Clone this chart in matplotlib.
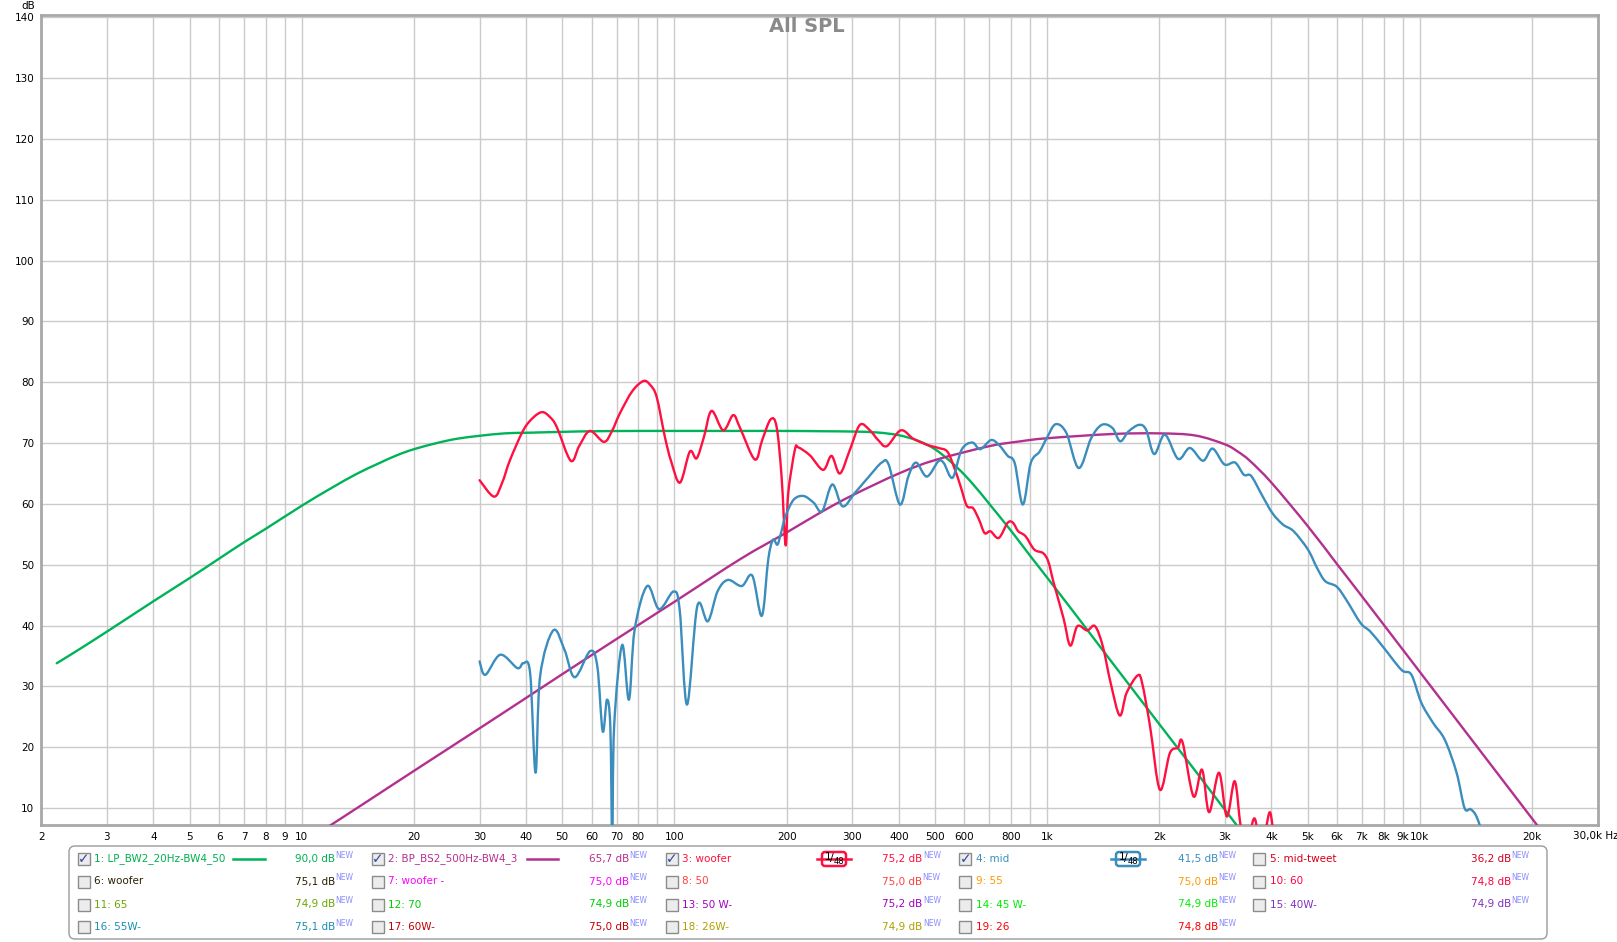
import numpy as np
import matplotlib.pyplot as plt
from matplotlib.patches import Rectangle, FancyBboxPatch, PathPatch
from matplotlib.path import Path
from matplotlib.transforms import IdentityTransform

W, H = 1617, 942

# --- curve data (Hz, dB) ---
lp_freq = [2.2, 2.5, 3, 4, 5, 6, 7, 8, 10, 12, 14, 16, 18, 20, 23, 26, 30, 35, 40, 50, 60, 80,
           100, 150, 200, 250, 300, 350, 400, 450, 500, 550, 600, 650, 700, 800, 900, 1000,
           1200, 1500, 2000, 2500, 3000, 3500]
lp_db = [33.8, 35.9, 39.0, 44.0, 47.8, 51.0, 53.7, 55.9, 59.7, 62.6, 64.9, 66.6, 68.0, 69.0,
         70.0, 70.7, 71.2, 71.6, 71.7, 71.85, 71.95, 72.0, 72.0, 72.0, 72.0, 71.95, 71.9,
         71.75, 71.3, 70.4, 69.0, 67.0, 64.8, 62.4, 60.0, 55.6, 51.5, 47.9, 41.6, 33.8, 23.8,
         16.1, 9.7, 4.4]

bp_freq = [11.5, 15, 20, 30, 40, 50, 70, 100, 150, 200, 250, 300, 400, 500, 700, 850, 1000,
           1500, 2000, 2500, 3000, 3250, 3500, 4000, 5000, 6000, 7000, 10000, 14000, 21000]
bp_db = [6.5, 11.1, 16.1, 23.1, 28.1, 32.0, 37.8, 43.9, 50.9, 55.3, 58.8, 61.4, 65.0, 67.2,
         69.5, 70.3, 70.8, 71.5, 71.6, 71.25, 69.8, 68.6, 67.1, 63.5, 56.4, 50.1, 44.8, 32.4,
         20.7, 6.6]

woofer_freq = [30, 32.8, 34.5, 36.2, 39.3, 41.8, 44.2, 46.3, 48.3, 52.7, 55.5, 59.3, 64.7,
               68.0, 71.4, 77.0, 82.5, 86.0, 89.6, 94.3, 98.0, 103.5, 110, 114.7, 120, 125.8,
               135.2, 143.8, 150, 164.4, 172, 181.2, 188, 193.9, 198.8, 202, 210.5, 215,
               230.9, 250.7, 264, 278, 295.7, 314.6, 334.6, 352.2, 371.5, 405, 438, 478, 511,
               540, 564, 586, 609, 633, 657, 680, 705, 742, 784, 810, 837, 875, 924, 976,
               1008, 1042, 1107, 1154, 1206, 1281, 1345, 1411, 1482, 1567, 1634, 1750, 1800,
               1890, 2008, 2135, 2243, 2310, 2472, 2605, 2722, 2893, 3037, 3188, 3307, 3420,
               3600, 3760, 3960, 4080]
woofer_db = [63.9, 61.2, 63.5, 67.2, 72.1, 74.2, 75.1, 74.3, 72.7, 67.1, 69.5, 72.0, 70.2,
             72.0, 74.9, 78.5, 80.2, 79.6, 77.6, 71.0, 67.0, 63.5, 68.6, 67.5, 71.0, 75.3,
             72.1, 74.6, 72.5, 67.3, 70.5, 73.9, 72.7, 64.5, 53.2, 61.7, 68.9, 69.3, 68.0,
             65.6, 67.9, 65.0, 68.9, 73.0, 72.1, 70.5, 69.5, 72.1, 70.7, 69.7, 69.2, 68.6,
             65.9, 62.9, 59.7, 59.3, 57.4, 55.2, 55.5, 54.4, 56.9, 56.9, 55.5, 54.7, 52.5,
             51.9, 50.5, 47.0, 41.2, 36.7, 39.9, 39.2, 39.9, 36.6, 30.5, 25.2, 28.9, 31.8,
             30.5, 23.4, 13.0, 19.0, 19.9, 20.8, 11.9, 16.3, 9.3, 15.8, 8.6, 14.4, 7.0, 3.0,
             8.3, 3.0, 9.3, 3.0]

mid_freq = [30, 31.1, 34.1, 37.9, 39.3, 41.0, 42.4, 43.6, 47.3, 50.7, 54.0, 59.4, 62.1, 64.2,
            65.9, 67.3, 68.1, 68.9, 72.4, 75.5, 78.2, 84.5, 91.0, 99.5, 103.3, 108.1, 115.2,
            122.9, 130.5, 139.1, 151.6, 161.8, 171.6, 178.5, 183.8, 188.9, 192.8, 198.7,
            209.0, 222.2, 236.4, 249.1, 265.3, 282.7, 304.9, 332.7, 360, 375.6, 403, 424.3,
            445, 475.6, 510.8, 528.5, 557.7, 589.6, 629.6, 661.6, 707.1, 742.9, 784.1, 818.9,
            861.0, 903.9, 955.0, 997.8, 1054, 1126, 1216, 1313, 1402, 1497, 1571, 1653, 1764,
            1844, 1939, 2071, 2248, 2417, 2620, 2781, 2991, 3196, 3374, 3530, 3769, 4023,
            4297, 4590, 5012, 5300, 5578, 5986, 6356, 6943, 7373, 8020, 8937, 9502, 10101,
            10860, 11680, 12560, 13190, 13690, 14200, 14900]
mid_db = [34.1, 31.9, 35.2, 33.0, 33.8, 32.2, 15.8, 31.6, 39.2, 36.0, 31.5, 35.8, 33.3, 22.6,
          27.8, 23.4, 5.0, 23.4, 36.8, 27.8, 39.3, 46.5, 42.7, 45.6, 42.6, 27.0, 43.2, 40.7,
          45.6, 47.5, 46.5, 48.2, 41.6, 50.8, 54.1, 53.3, 55.0, 58.0, 60.7, 61.3, 60.2, 58.8,
          63.2, 59.6, 61.8, 64.5, 66.8, 66.5, 59.9, 64.5, 66.8, 64.5, 67.0, 66.7, 64.3, 68.9,
          70.1, 69.0, 70.5, 69.7, 67.9, 66.7, 59.9, 66.7, 68.6, 70.8, 73.1, 71.7, 65.9, 70.8,
          73.0, 72.5, 70.3, 71.9, 73.0, 72.2, 68.2, 71.4, 67.4, 69.2, 67.1, 69.1, 66.5, 66.8,
          64.8, 64.6, 61.5, 58.5, 56.6, 55.5, 52.5, 49.5, 47.3, 46.4, 44.2, 40.4, 39.0, 36.3,
          32.7, 31.9, 27.3, 24.0, 21.2, 15.8, 10.0, 9.8, 8.6, 5.0]

# --- axis ticks ---
x_grid = [2, 3, 4, 5, 6, 7, 8, 9, 10, 20, 30, 40, 50, 60, 70, 80, 90, 100, 200, 300, 400,
          500, 600, 700, 800, 900, 1000, 2000, 3000, 4000, 5000, 6000, 7000, 8000, 9000,
          10000, 20000]
x_labels = ['2', '3', '4', '5', '6', '7', '8', '9', '10', '20', '30', '40', '50', '60', '70',
            '80', '', '100', '200', '300', '400', '500', '600', '', '800', '', '1k', '2k',
            '3k', '4k', '5k', '6k', '7k', '8k', '9k', '10k', '20k']
y_ticks = list(range(10, 141, 10))

# --- legend entries, one list per column ---
leg_labels = [["1: LP_BW2_20Hz-BW4_50", "6: woofer", "11: 65", "16: 55W-"],
              ["2: BP_BS2_500Hz-BW4_3", "7: woofer -", "12: 70", "17: 60W-"],
              ["3: woofer", "8: 50", "13: 50 W-", "18: 26W-"],
              ["4: mid", "9: 55", "14: 45 W-", "19: 26"],
              ["5: mid-tweet", "10: 60", "15: 40W-"]]
leg_values = [["90,0", "75,1", "74,9", "75,1"],
              ["65,7", "75,0", "74,9", "75,0"],
              ["75,2", "75,0", "75,2", "74,9"],
              ["41,5", "75,0", "74,9", "74,8"],
              ["36,2", "74,8", "74,9"]]
leg_colors = [["#00b050", "#2a2000", "#6aa800", "#1a8fb0"],
              ["#b8308c", "#ff00ff", "#00cc00", "#c00000"],
              ["#ff1040", "#ff4040", "#a000c0", "#b0a000"],
              ["#3a8fc0", "#ff9900", "#00ee00", "#ff0000"],
              ["#d8001c", "#ff0040", "#8030c0"]]
leg_checked = [[True, False, False, False],
               [True, False, False, False],
               [True, False, False, False],
               [True, False, False, False],
               [False, False, False]]

c_lp, c_bp, c_woofer, c_mid = "#00b358", "#b3308e", "#ff1040", "#3a8dbd"


def smooth_curve(ax, freq, db, color, z):
    # draw a smooth line through the read points (cubic segments in log-f space)
    lx = np.log10(freq)
    y = np.asarray(db, float)
    n = len(lx)
    verts = [(freq[0], y[0])]
    codes = [Path.MOVETO]
    for i in range(n - 1):
        a = max(i - 1, 0)
        b = min(i + 2, n - 1)
        c1 = (lx[i] + (lx[i + 1] - lx[a]) / 6, y[i] + (y[i + 1] - y[a]) / 6)
        c2 = (lx[i + 1] - (lx[b] - lx[i]) / 6, y[i + 1] - (y[b] - y[i]) / 6)
        verts += [(10 ** c1[0], c1[1]), (10 ** c2[0], c2[1]), (freq[i + 1], y[i + 1])]
        codes += [Path.CURVE4] * 3
    ax.add_patch(PathPatch(Path(verts, codes), fill=False, ec=color, lw=1.7, zorder=z,
                           capstyle='round', joinstyle='round'))


fig = plt.figure(figsize=(W / 100, H / 100), dpi=100)
ax = fig.add_axes([41.3 / W, 1 - 825 / H, (1597.5 - 41.3) / W, (825 - 15) / H])
ax.set_xscale('log')
ax.set_xlim(2, 30000)
ax.set_ylim(7.2, 140.4)

smooth_curve(ax, lp_freq, lp_db, c_lp, 3)
smooth_curve(ax, bp_freq, bp_db, c_bp, 3)
smooth_curve(ax, woofer_freq, woofer_db, c_woofer, 4)
smooth_curve(ax, mid_freq, mid_db, c_mid, 4)

ax.set_xticks(x_grid)
ax.set_xticklabels(x_labels)
ax.xaxis.set_minor_locator(plt.NullLocator())
ax.set_yticks(y_ticks)
ax.tick_params(length=0, labelsize=7.5, pad=5)
ax.grid(True, color="#cbcbcb", lw=1)
for s in ax.spines.values():
    s.set_color("#a8a8a8")
    s.set_linewidth(2)

fig.text(807 / W, 1 - 26 / H, "All SPL", ha='center', va='center', fontsize=14,
         fontweight='bold', color="#8a8a8a")
fig.text(28 / W, 1 - 6 / H, "dB", ha='center', va='center', fontsize=7.5)
fig.text(1573 / W, 1 - 836 / H, "30,0k Hz", ha='left', va='center', fontsize=7.5)

# --- legend panel (pixel coordinates, y measured from the top) ---
T = IdentityTransform()


def P(x, y):
    return x, H - y


bx0, by0, bx1, by1 = 69, 846, 1547, 939
fig.patches.append(FancyBboxPatch(P(bx0, by1), bx1 - bx0, by1 - by0,
                                  boxstyle="round,pad=0,rounding_size=6", fc="white",
                                  ec="#9a9a9a", lw=1, transform=T, figure=fig))

col_box = [83.5, 377.5, 671.5, 965, 1259]
col_label = [94.5, 388, 682, 976, 1270]
col_value = [295, 589, 882, 1177.5, 1471]
row_y = [859, 881.5, 904.5, 927]

value_texts = []
for c in range(5):
    for r in range(len(leg_labels[c])):
        y = row_y[r]
        fig.patches.append(Rectangle(P(col_box[c] - 6, y + 6), 12, 12, fc="#ececec",
                                     ec="#8c8c8c", lw=1, transform=T, figure=fig))
        if leg_checked[c][r]:
            fig.text(*P(col_box[c] + 0.5, y), "\u2713", transform=T, ha='center',
                     va='center', fontsize=10, fontweight='bold', color="#34469a")
        col = leg_colors[c][r]
        fig.text(*P(col_label[c], y), leg_labels[c][r], transform=T, ha='left',
                 va='center', fontsize=7.5, color=col)
        t = fig.text(*P(col_value[c], y), leg_values[c][r] + " dB", transform=T,
                     ha='left', va='center', fontsize=7.5, color=col)
        value_texts.append((t, y))

# "NEW" superscripts placed right after each value text
renderer = fig.canvas.get_renderer()
for t, y in value_texts:
    bb = t.get_window_extent(renderer)
    fig.text(bb.x1 + 0.5, H - (y - 4), "NEW", transform=T, ha='left', va='center',
             fontsize=5.5, color="#8c8cff")

# line samples for the two filter curves
fig.lines.append(plt.Line2D([233, 265], [H - 859, H - 859], color=c_lp, lw=1.8,
                            transform=T, figure=fig))
fig.lines.append(plt.Line2D([527, 558], [H - 859, H - 859], color=c_bp, lw=1.8,
                            transform=T, figure=fig))

# 1/48 smoothing badges
for x0, col in [(817, c_woofer), (1111, c_mid)]:
    fig.lines.append(plt.Line2D([x0, x0 + 34], [H - 859, H - 859], color=col, lw=1.8,
                                transform=T, figure=fig))
    fig.patches.append(FancyBboxPatch(P(x0 + 5, 866), 24, 14,
                                      boxstyle="round,pad=0,rounding_size=3", fc="white",
                                      ec=col, lw=1.8, transform=T, figure=fig))
    fig.text(*P(x0 + 11, 857), "1", transform=T, ha='center', va='center', fontsize=7.5)
    fig.text(*P(x0 + 14.5, 858), "/", transform=T, ha='center', va='center', fontsize=8)
    fig.text(*P(x0 + 21.5, 861), "48", transform=T, ha='center', va='center',
             fontsize=6)

fig.savefig("out.png", dpi=100)
